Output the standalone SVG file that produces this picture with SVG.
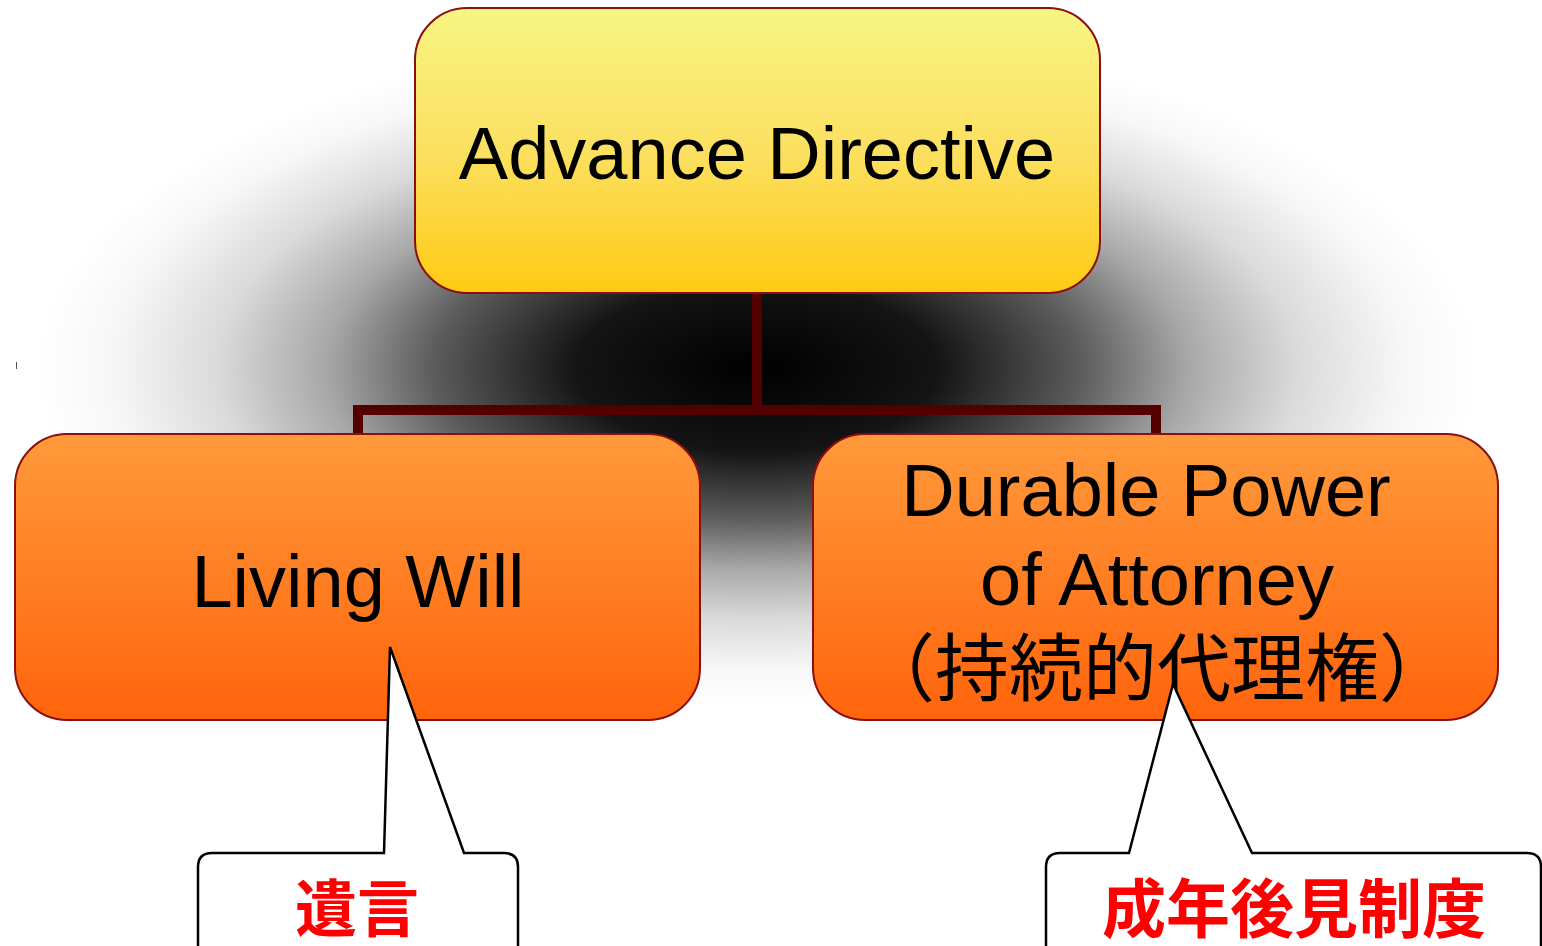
<svg xmlns="http://www.w3.org/2000/svg" width="1542" height="946" viewBox="0 0 1542 946">
<defs>
<radialGradient id="glow">
<stop offset="0" stop-color="#000"/>
<stop offset="0.25" stop-color="#141414"/>
<stop offset="0.45" stop-color="#5c5c5c"/>
<stop offset="0.6" stop-color="#a8a8a8"/>
<stop offset="0.75" stop-color="#dadada"/>
<stop offset="0.9" stop-color="#f7f7f7"/>
<stop offset="1" stop-color="#fff"/>
</radialGradient>
<linearGradient id="yellow" x1="0" y1="0" x2="0" y2="1">
<stop offset="0" stop-color="#f8f583"/>
<stop offset="0.5" stop-color="#fbe061"/>
<stop offset="1" stop-color="#ffca12"/>
</linearGradient>
<linearGradient id="orange" x1="0" y1="0" x2="0" y2="1">
<stop offset="0" stop-color="#ff9a3b"/>
<stop offset="1" stop-color="#ff640c"/>
</linearGradient>
<style>
.box{stroke:#8a0f0f;stroke-width:2}
.lbl{font-family:"Liberation Sans","Noto Sans CJK JP",Arial,sans-serif;font-size:74px;fill:#000;text-anchor:middle}
.cjk{font-family:"Noto Sans CJK JP","Liberation Sans",sans-serif;font-size:74px;fill:#000;text-anchor:middle}
.call{fill:#fff;stroke:#000;stroke-width:2.5;stroke-linejoin:miter}
.red{font-family:"Noto Sans CJK JP",sans-serif;font-weight:bold;fill:#ff0000;text-anchor:middle}
.conn{fill:none;stroke:#550000;stroke-width:10}
</style>
</defs>
<rect width="1542" height="946" fill="#fff"/>
<ellipse cx="757" cy="368" rx="720" ry="335" fill="url(#glow)"/>
<line x1="16.5" y1="362" x2="16.5" y2="369" stroke="#555" stroke-width="1"/>
<g id="connectors">
<path class="conn" d="M757,293 V410"/>
<path class="conn" d="M358,436 V410 H1156 V436"/>
</g>
<g id="node-advance-directive">
<rect class="box" x="415" y="8" width="685" height="285" rx="52" fill="url(#yellow)"/>
<text class="lbl" x="757" y="179">Advance Directive</text>
</g>
<g id="node-living-will">
<rect class="box" x="15" y="434" width="685" height="286" rx="52" fill="url(#orange)"/>
<text class="lbl" x="358" y="607">Living Will</text>
</g>
<g id="node-dpoa">
<rect class="box" x="813" y="434" width="685" height="286" rx="52" fill="url(#orange)"/>
<text class="lbl" x="1146" y="516">Durable Power</text>
<text class="lbl" x="1157" y="605">of Attorney</text>
<text class="cjk" x="1157" y="695">（持続的代理権）</text>
</g>
<g id="callout-yuigon">
<path class="call" d="M384,853 L390,647 L464,853 H504 Q518,853 518,867 V960 H198 V867 Q198,853 212,853 Z"/>
<text class="red" x="357" y="932" font-size="62">遺言</text>
</g>
<g id="callout-seinen">
<path class="call" d="M1129,853 L1173,684 L1252,853 H1527 Q1541,853 1541,867 V960 H1046 V867 Q1046,853 1060,853 Z"/>
<text class="red" x="1294" y="932" font-size="64">成年後見制度</text>
</g>
</svg>
